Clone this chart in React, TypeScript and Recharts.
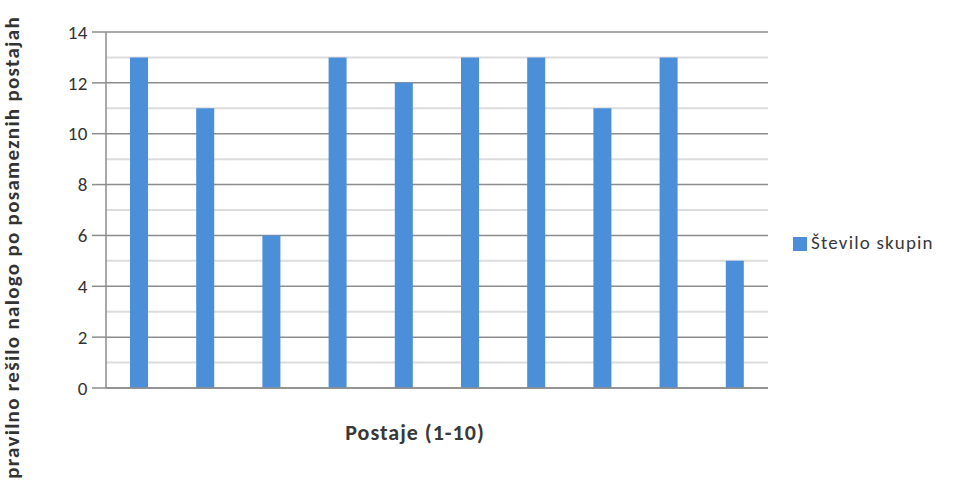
import { BarChart, Bar, XAxis, YAxis, CartesianGrid, Legend } from 'recharts';

const stations = ['1', '2', '3', '4', '5', '6', '7', '8', '9', '10'];
const groupCounts = [13, 11, 6, 13, 12, 13, 13, 11, 13, 5];
const yTicks = [0, 2, 4, 6, 8, 10, 12, 14];
const minorTicks = [1, 3, 5, 7, 9, 11, 13];

const data = stations.map((name, i) => ({ name, value: groupCounts[i] }));

const font = 'Calibri, Carlito, "Open Sans", "Noto Sans", sans-serif';

const YTitle = () => (
    <text
        transform="translate(19,16) rotate(-90)"
        textAnchor="end"
        fontFamily={font}
        fontWeight="bold"
        fontSize={21}
        letterSpacing={1.3}
        fill="#333"
    >
        pravilno rešilo nalogo po posameznih postajah
    </text>
);

const App = () => {
    return (
        <div style={{ position: 'fixed', left: 0, top: 0, width: 971, height: 487, background: '#fff' }}>
            <BarChart
                width={971}
                height={487}
                data={data}
                margin={{ top: 32, right: 23, bottom: 0, left: 0 }}
            >
                <CartesianGrid
                    vertical={false}
                    horizontalValues={minorTicks}
                    stroke="#dcdcdc"
                    strokeWidth={2}
                />
                <CartesianGrid
                    vertical={false}
                    horizontalValues={yTicks}
                    stroke="#8c8c8c"
                    strokeWidth={1.5}
                />
                <XAxis
                    dataKey="name"
                    tick={false}
                    tickLine={false}
                    height={99}
                    stroke="#8c8c8c"
                    strokeWidth={1.5}
                    label={{
                        value: 'Postaje (1-10)',
                        position: 'insideTop',
                        offset: 36,
                        dx: -22,
                        fill: '#383838',
                        fontFamily: font,
                        fontWeight: 'bold',
                        fontSize: 22,
                        letterSpacing: 1,
                    }}
                />
                <YAxis
                    domain={[0, 14]}
                    ticks={yTicks}
                    width={106}
                    tickSize={14}
                    tickMargin={4}
                    stroke="#8c8c8c"
                    strokeWidth={1.5}
                    tick={{ fill: '#333', fontFamily: font, fontSize: 19, letterSpacing: 0.5 }}
                    label={<YTitle />}
                />
                <Legend
                    layout="vertical"
                    align="right"
                    verticalAlign="top"
                    iconType="square"
                    iconSize={14}
                    wrapperStyle={{ left: 793, top: 231, width: 180, fontFamily: font, fontSize: 19, letterSpacing: 1.2 }}
                    formatter={(v) => <span style={{ color: '#383838' }}>{v}</span>}
                />
                <Bar
                    dataKey="value"
                    name="Število skupin"
                    fill="#4a8fd8"
                    barSize={18}
                    isAnimationActive={false}
                />
            </BarChart>
        </div>
    );
};

export default App;
